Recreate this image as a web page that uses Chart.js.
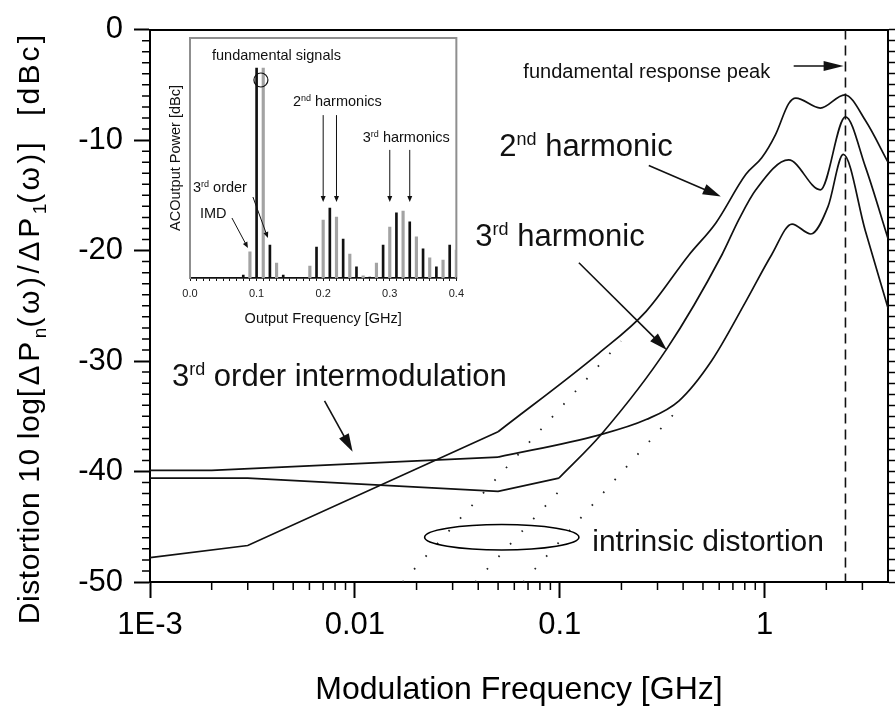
<!DOCTYPE html>
<html>
<head>
<meta charset="utf-8">
<title>Distortion vs modulation frequency</title>
<script src="https://cdn.jsdelivr.net/npm/chart.js@4.4.1/dist/chart.umd.min.js"></script>
<style>
  html, body { margin: 0; padding: 0; background: #fff; }
  .wrap { position: relative; width: 895px; height: 712px; }
  .wrap canvas { position: absolute; }
  #main { left: 0; top: 0; }
  #inset { left: 160px; top: 30px; }
</style>
</head>
<body>
<div class="wrap">
  <canvas id="main" width="895" height="712"></canvas>
  <canvas id="inset" width="310" height="305"></canvas>
</div>
<script>
// ---- main plot: modulation frequency [GHz] vs distortion [dBc] ----
const freqTicks = [0.001, 0.01, 0.1, 1];
const freqTickLabels = ["1E-3", "0.01", "0.1", "1"];

// 2nd harmonic (straight low-frequency part, smooth part above 0.05 GHz)
const h2LowFreq = [0.001, 0.003, 0.05];
const h2LowDb = [-47.8, -46.7, -36.4];
const h2HighFreq = [0.05, 0.155, 0.264, 0.427, 0.578, 0.81, 0.968, 1.13, 1.31, 1.42, 1.87, 2.46, 3.12, 4];
const h2HighDb = [-36.4, -29.3, -25.5, -20.4, -17.5, -13.1, -11.6, -9.5, -6.7, -6.2, -7.1, -5.9, -8.3, -12.0];

// 3rd harmonic
const h3LowFreq = [0.001, 0.003, 0.05, 0.099];
const h3LowDb = [-40.6, -40.6, -41.8, -40.6];
const h3HighFreq = [0.099, 0.16, 0.333, 0.618, 0.748, 0.906, 1.31, 1.87, 2.48, 3.1, 4];
const h3HighDb = [-40.6, -36.6, -28.9, -20.4, -17.2, -14.5, -11.8, -14.5, -7.9, -12.4, -18.9];

// 3rd order intermodulation
const imdLowFreq = [0.001, 0.002, 0.05];
const imdLowDb = [-39.9, -39.9, -38.7];
const imdHighFreq = [0.05, 0.155, 0.264, 0.382, 0.55, 0.81, 1.08, 1.36, 1.68, 2.04, 2.42, 3.1, 4];
const imdHighDb = [-38.7, -36.7, -35.3, -33.6, -30.0, -24.6, -20.4, -17.6, -18.5, -16.0, -11.3, -18.2, -25.2];

// intrinsic distortion (dotted)
const intr2Freq = [0.0171, 0.199];
const intr2Db = [-50, -28.2];
const intr3Freq = [0.0387, 0.106];
const intr3Db = [-50, -41.2];
const intrImdFreq = [0.0664, 0.394];
const intrImdDb = [-50, -34.0];

// fundamental response peak (dashed)
const peakFreq = 2.48;

// ---- inset: output spectrum ----
const insetTickLabels = ["0.0", "0.1", "0.2", "0.3", "0.4"];
const INSET_FLOOR = -70;
const blackFreq = [0.08, 0.10, 0.12, 0.14, 0.19, 0.21, 0.23, 0.25, 0.27, 0.29, 0.31, 0.33, 0.35, 0.37, 0.39];
const blackDb = [-69, 0, -59, -69, -59.7, -46.7, -57, -66.3, -69.7, -59, -48.3, -51.3, -60.3, -66.3, -59];
const grayFreq = [0.09, 0.11, 0.13, 0.18, 0.20, 0.22, 0.24, 0.26, 0.28, 0.30, 0.32, 0.34, 0.36, 0.38, 0.40];
const grayDb = [-61.3, 0, -65, -66, -50.7, -49.7, -62, -69.3, -65, -53, -47.7, -56.3, -63.3, -64, -60.7];

// ---- annotations ----
const FONT = "'Liberation Sans', Arial, Helvetica, sans-serif";

const mainLabels = [
  { f: 0.0664, db: -4.4, parts: [["fundamental response peak", 20]] },
  { f: 0.0507, db: -11.4, parts: [["2", 31], ["nd", 18, -11], [" harmonic", 31]] },
  { f: 0.0387, db: -19.6, parts: [["3", 31], ["rd", 18, -11], [" harmonic", 31]] },
  { f: 0.00128, db: -32.3, parts: [["3", 31], ["rd", 18, -11], [" order intermodulation", 31]] },
  { f: 0.144, db: -47.2, parts: [["intrinsic distortion", 30]] }
];
const mainArrows = [
  { from: [1.386, -3.3], to: [2.43, -3.3], head: 20, half: 5 },
  { from: [0.272, -12.3], to: [0.611, -15.1], head: 18, half: 5.5 },
  { from: [0.124, -21.1], to: [0.333, -29.0], head: 18, half: 5.5 },
  { from: [0.00711, -33.6], to: [0.00975, -38.2], head: 18, half: 5.5 }
];
const ellipse = { f: [0.0219, 0.124], db: [-44.8, -47.1] };
const yTitleParts = [
  ["Distortion 10 log", 30, 0, 0.6],
  ["[ΔP", 30, 0, 3.6], ["n", 19, 7, 0], ["(ω)/ΔP", 30, 0, 3.6], ["1", 19, 7, 0], ["(ω)]  [dBc]", 30, 0, 3.2]
];

const insetLabels = [
  { f: 0.033, db: 2.7, parts: [["fundamental signals", 14.5]] },
  { f: 0.1545, db: -12.7, parts: [["2", 14.5], ["nd", 9, -5], [" harmonics", 14.5]] },
  { f: 0.2595, db: -24.7, parts: [["3", 14.5], ["rd", 9, -5], [" harmonics", 14.5]] },
  { f: 0.0045, db: -41.3, parts: [["3", 14.5], ["rd", 9, -5], [" order", 14.5]] },
  { f: 0.015, db: -50, parts: [["IMD", 14.5]] }
];
const insetArrows = [
  { from: [0.2, -15.7], to: [0.2, -44.7] },
  { from: [0.22, -15.7], to: [0.22, -44.7] },
  { from: [0.30, -27.3], to: [0.30, -44.7] },
  { from: [0.33, -27.3], to: [0.33, -44.7] },
  { from: [0.0945, -43], to: [0.117, -56.7] },
  { from: [0.063, -50], to: [0.087, -60] }
];
const insetCircle = { f: 0.1065, db: -4 };

Chart.defaults.font.family = FONT;
Chart.defaults.color = "#000";

function drawRich(ctx, x, y, parts) {
  let cx = x;
  for (const [text, size, dy = 0, spacing = 0] of parts) {
    ctx.font = `${size}px ${FONT}`;
    ctx.letterSpacing = `${spacing}px`;
    ctx.fillText(text, cx, y + dy);
    cx += ctx.measureText(text).width;
  }
  ctx.letterSpacing = "0px";
  return cx - x;
}

function richWidth(ctx, parts) {
  let w = 0;
  for (const [text, size, , spacing = 0] of parts) {
    ctx.font = `${size}px ${FONT}`;
    ctx.letterSpacing = `${spacing}px`;
    w += ctx.measureText(text).width;
  }
  ctx.letterSpacing = "0px";
  return w;
}

function arrow(ctx, x1, y1, x2, y2, head, half) {
  const a = Math.atan2(y2 - y1, x2 - x1);
  const c = Math.cos(a), s = Math.sin(a);
  ctx.beginPath();
  ctx.moveTo(x1, y1);
  ctx.lineTo(x2 - head * 0.7 * c, y2 - head * 0.7 * s);
  ctx.stroke();
  ctx.beginPath();
  ctx.moveTo(x2, y2);
  ctx.lineTo(x2 - head * c + half * s, y2 - head * s - half * c);
  ctx.lineTo(x2 - head * c - half * s, y2 - head * s + half * c);
  ctx.closePath();
  ctx.fill();
}

function curve(freq, db, smooth, extra) {
  return Object.assign({
    data: freq.map((f, i) => ({ x: f, y: db[i] })),
    xAxisID: "x",
    yAxisID: "y",
    borderColor: "#111",
    borderWidth: 1.7,
    pointRadius: 0,
    tension: 0,
    cubicInterpolationMode: smooth ? "monotone" : "default"
  }, extra || {});
}

const dotted = { borderDash: [1.6, 15.5], borderWidth: 1.8, borderColor: "#222" };

const mainDeco = {
  id: "mainDeco",
  afterDraw(chart) {
    const { ctx, chartArea: a, scales: { x, y } } = chart;
    const px = (f) => x.getPixelForValue(f);
    const py = (v) => y.getPixelForValue(v);
    ctx.save();
    ctx.strokeStyle = "#000";
    ctx.fillStyle = "#000";

    // minor ticks (left and bottom)
    ctx.lineWidth = 1.5;
    ctx.beginPath();
    for (let v = y.min + 1; v < y.max; v++) {
      if (v % 10 === 0) continue;
      ctx.moveTo(a.left - 8, py(v));
      ctx.lineTo(a.left, py(v));
    }
    for (const d of freqTicks) {
      for (let m = 2; m < 10; m++) {
        const f = m * d;
        if (f >= x.max) break;
        ctx.moveTo(px(f), a.bottom);
        ctx.lineTo(px(f), a.bottom + 8);
      }
    }
    ctx.stroke();

    // y axis title with subscripts
    ctx.save();
    ctx.translate(39, 328);
    ctx.rotate(-Math.PI / 2);
    ctx.textBaseline = "alphabetic";
    drawRich(ctx, -richWidth(ctx, yTitleParts) / 2, 0, yTitleParts);
    ctx.restore();

    // ellipse round the intrinsic lines
    ctx.lineWidth = 1.6;
    const ex0 = px(ellipse.f[0]), ex1 = px(ellipse.f[1]);
    const ey0 = py(ellipse.db[0]), ey1 = py(ellipse.db[1]);
    ctx.beginPath();
    ctx.ellipse((ex0 + ex1) / 2, (ey0 + ey1) / 2, (ex1 - ex0) / 2, (ey1 - ey0) / 2, 0, 0, Math.PI * 2);
    ctx.stroke();

    // labels
    ctx.fillStyle = "#111";
    ctx.textBaseline = "alphabetic";
    for (const l of mainLabels) drawRich(ctx, px(l.f), py(l.db), l.parts);

    // arrows
    ctx.strokeStyle = "#111";
    ctx.lineWidth = 1.6;
    for (const ar of mainArrows) {
      arrow(ctx, px(ar.from[0]), py(ar.from[1]), px(ar.to[0]), py(ar.to[1]), ar.head, ar.half);
    }
    ctx.restore();
  }
};

new Chart(document.getElementById("main"), {
  type: "line",
  data: {
    datasets: [
      curve(intr2Freq, intr2Db, false, dotted),
      curve(intr3Freq, intr3Db, false, dotted),
      curve(intrImdFreq, intrImdDb, false, dotted),
      curve([peakFreq, peakFreq], [0, -50], false, { borderDash: [10, 6], borderWidth: 1.6 }),
      curve(h2LowFreq, h2LowDb, false),
      curve(h2HighFreq, h2HighDb, true),
      curve(h3LowFreq, h3LowDb, false),
      curve(h3HighFreq, h3HighDb, true),
      curve(imdLowFreq, imdLowDb, false),
      curve(imdHighFreq, imdHighDb, true)
    ]
  },
  options: {
    responsive: false,
    animation: false,
    layout: { padding: 0 },
    plugins: { legend: { display: false }, tooltip: { enabled: false } },
    scales: {
      x: {
        type: "logarithmic",
        position: "bottom",
        min: 0.001,
        max: 4,
        afterBuildTicks: (s) => { s.ticks = freqTicks.map((v) => ({ value: v })); },
        afterFit: (s) => { s.height = 130; },
        ticks: {
          callback: (v, i) => freqTickLabels[i],
          autoSkip: false,
          maxRotation: 0,
          padding: 9,
          font: { size: 31 },
          color: "#000"
        },
        grid: { drawOnChartArea: false, tickLength: 16, tickWidth: 2, tickColor: "#000" },
        border: { color: "#000", width: 2 },
        title: {
          display: true,
          text: "Modulation Frequency [GHz]",
          font: { size: 32 },
          color: "#000",
          padding: { top: 0, bottom: 3 }
        }
      },
      xTop: {
        type: "linear",
        position: "top",
        min: 0,
        max: 1,
        afterFit: (s) => { s.height = 20; },
        ticks: { display: false },
        grid: { drawOnChartArea: false, drawTicks: false },
        border: { color: "#000", width: 2 }
      },
      y: {
        type: "linear",
        position: "left",
        min: -50,
        max: 0,
        afterFit: (s) => { s.width = 150; },
        ticks: { stepSize: 10, padding: 11, font: { size: 31 }, color: "#000" },
        grid: { drawOnChartArea: false, tickLength: 16, tickWidth: 2, tickColor: "#000" },
        border: { color: "#000", width: 2 }
      },
      yRight: {
        type: "linear",
        position: "right",
        min: -50,
        max: 0,
        afterFit: (s) => { s.width = 7; },
        ticks: { display: false, stepSize: 1, maxTicksLimit: 100, autoSkip: false, font: { size: 6 } },
        grid: { drawOnChartArea: false, tickLength: 8, tickWidth: 1.5, tickColor: "#000" },
        border: { color: "#000", width: 2 }
      }
    }
  },
  plugins: [mainDeco]
});

const insetDeco = {
  id: "insetDeco",
  beforeDraw(chart) {
    const { ctx, chartArea: a } = chart;
    ctx.save();
    ctx.strokeStyle = "#8f8f8f";
    ctx.lineWidth = 2;
    ctx.strokeRect(a.left, a.top, a.right - a.left, a.bottom - a.top);
    ctx.restore();
  },
  afterDraw(chart) {
    const { ctx, scales: { x, y } } = chart;
    const px = (f) => x.getPixelForValue(f);
    const py = (v) => y.getPixelForValue(v);
    ctx.save();
    ctx.fillStyle = "#111";
    ctx.strokeStyle = "#111";
    ctx.textBaseline = "alphabetic";
    for (const l of insetLabels) drawRich(ctx, px(l.f), py(l.db), l.parts);
    ctx.lineWidth = 1;
    for (const ar of insetArrows) {
      arrow(ctx, px(ar.from[0]), py(ar.from[1]), px(ar.to[0]), py(ar.to[1]), 6, 2.5);
    }
    ctx.lineWidth = 1.2;
    ctx.beginPath();
    ctx.arc(px(insetCircle.f), py(insetCircle.db), 7, 0, Math.PI * 2);
    ctx.stroke();
    ctx.restore();
  }
};

new Chart(document.getElementById("inset"), {
  type: "bar",
  data: {
    datasets: [
      {
        data: grayFreq.map((f, i) => ({ x: f, y: grayDb[i] })),
        backgroundColor: "#a3a3a3",
        barThickness: 2.5,
        base: INSET_FLOOR,
        grouped: false
      },
      {
        data: blackFreq.map((f, i) => ({ x: f, y: blackDb[i] })),
        backgroundColor: "#111",
        barThickness: 2,
        base: INSET_FLOOR,
        grouped: false
      }
    ]
  },
  options: {
    responsive: false,
    animation: false,
    layout: { padding: { top: 8, right: 13, left: 0, bottom: 0 } },
    plugins: { legend: { display: false }, tooltip: { enabled: false } },
    scales: {
      x: {
        type: "linear",
        position: "bottom",
        min: 0,
        max: 0.4,
        offset: false,
        afterFit: (s) => { s.height = 57; },
        ticks: {
          stepSize: 0.01,
          maxTicksLimit: 100,
          autoSkip: false,
          maxRotation: 0,
          padding: 6,
          font: { size: 11 },
          color: "#222",
          callback: (v) => {
            const k = Math.round(v * 100);
            return k % 10 === 0 ? insetTickLabels[k / 10] : "";
          }
        },
        grid: { offset: false, drawOnChartArea: false, tickLength: 3, tickWidth: 1, tickColor: "#111" },
        border: { color: "#111", width: 1.5 },
        title: {
          display: true,
          text: "Output Frequency [GHz]",
          font: { size: 14.5 },
          color: "#111",
          padding: { top: 0, bottom: 7 }
        }
      },
      y: {
        type: "linear",
        min: INSET_FLOOR,
        max: 10,
        afterFit: (s) => { s.width = 30; },
        ticks: { display: false },
        grid: { display: false },
        border: { color: "#8f8f8f", width: 2 },
        title: {
          display: true,
          text: "ACOutput Power [dBc]",
          font: { size: 14.5 },
          color: "#111",
          padding: { top: 7, bottom: 0 }
        }
      }
    }
  },
  plugins: [insetDeco]
});
</script>
</body>
</html>
